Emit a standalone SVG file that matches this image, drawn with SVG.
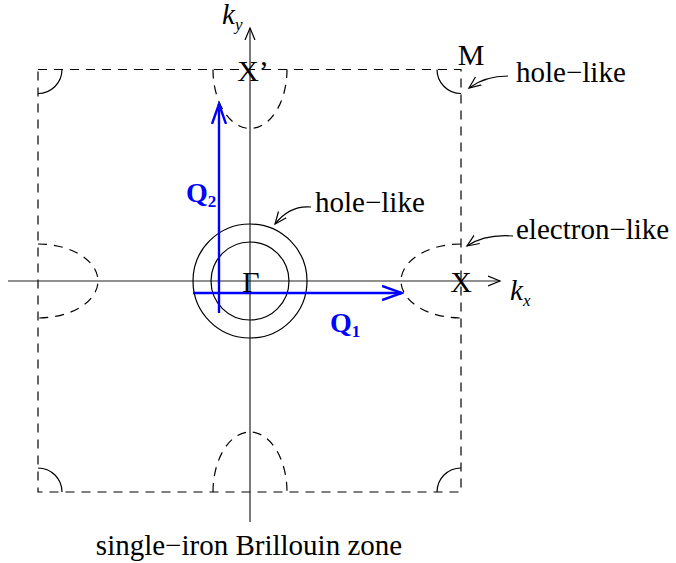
<svg xmlns="http://www.w3.org/2000/svg" width="676" height="563" viewBox="0 0 676 563">
<defs>
<style>
.t{font-family:"Liberation Serif","Times New Roman",serif;font-size:29px;fill:#000}
.lab{font-size:30px}
.it{font-style:italic}
.q{font-family:"Liberation Serif","Times New Roman",serif;font-size:28px;font-weight:bold;fill:#0000ff}
.sub{font-size:17px}
.dash{fill:none;stroke:#000;stroke-width:1.2;stroke-dasharray:9,7}
.sol{fill:none;stroke:#000;stroke-width:1.2}
.axis{fill:none;stroke:#222;stroke-width:1.2}
.blue{fill:none;stroke:#0000ff;stroke-width:2.4}
.ptr{fill:none;stroke:#000;stroke-width:1.2}
</style>
<marker id="open" markerWidth="14" markerHeight="12" refX="12" refY="6" orient="auto" markerUnits="userSpaceOnUse">
<path d="M0,1 L12,6 L0,11" fill="none" stroke="#000" stroke-width="1.2"/>
</marker>
<marker id="openb" markerWidth="22" markerHeight="18" refX="20" refY="9" orient="auto" markerUnits="userSpaceOnUse">
<path d="M0,2 L20,9 L0,16" fill="none" stroke="#0000ff" stroke-width="2.4"/>
</marker>
</defs>

<g id="zone">
<rect x="38" y="69.5" width="423" height="422.5" class="dash"/>
</g>

<g id="axes">
<line x1="8" y1="281" x2="500" y2="281" class="axis" marker-end="url(#open)"/>
<line x1="250" y1="522" x2="250" y2="28" class="axis" marker-end="url(#open)"/>
</g>

<g id="pockets">
<path d="M213,69.5 A37,59 0 0 0 287,69.5" class="dash"/>
<path d="M213,492 A37,60 0 0 1 287,492" class="dash"/>
<path d="M38,244 A60,37 0 0 1 38,318" class="dash"/>
<path d="M461,244 A60,37 0 0 0 461,318" class="dash"/>
</g>

<g id="corners">
<path d="M38,93.5 A24,24 0 0 0 62,69.5" class="sol"/>
<path d="M437,69.5 A24,24 0 0 0 461,93.5" class="sol"/>
<path d="M38,468 A24,24 0 0 1 62,492" class="sol"/>
<path d="M437,492 A24,24 0 0 1 461,468" class="sol"/>
</g>

<g id="gamma-circles">
<circle cx="250" cy="281" r="57" class="sol"/>
<circle cx="250" cy="281" r="39" class="sol"/>
</g>

<g id="connectors">
<line x1="193" y1="293" x2="402" y2="293" class="blue" marker-end="url(#openb)"/>
<line x1="219" y1="313" x2="219" y2="104" class="blue" marker-end="url(#openb)"/>
<path d="M508,76 Q485,76 469,88" class="ptr" marker-end="url(#open)"/>
<path d="M311,207 Q290,205 275,224" class="ptr" marker-end="url(#open)"/>
<path d="M513,236 Q485,234 467,246" class="ptr" marker-end="url(#open)"/>
</g>

<g id="labels">
<text x="222" y="24" class="t it">k<tspan class="sub" dy="6">y</tspan></text>
<text x="510" y="300" class="t it">k<tspan class="sub" dy="6">x</tspan></text>
<text x="253" y="81" class="t lab" text-anchor="middle">X’</text>
<text x="471" y="65" class="t lab" text-anchor="middle">M</text>
<text x="461" y="292" class="t lab" text-anchor="middle">X</text>
<text x="251" y="292" class="t lab" text-anchor="middle">Γ</text>
<text x="186" y="202" class="q">Q<tspan class="sub" dy="5">2</tspan></text>
<text x="330" y="332" class="q">Q<tspan class="sub" dy="5">1</tspan></text>
<text x="516" y="82" class="t">hole−like</text>
<text x="315" y="212" class="t">hole−like</text>
<text x="516" y="239" class="t">electron−like</text>
<text x="249" y="555" class="t" text-anchor="middle">single−iron Brillouin zone</text>
</g>
</svg>
